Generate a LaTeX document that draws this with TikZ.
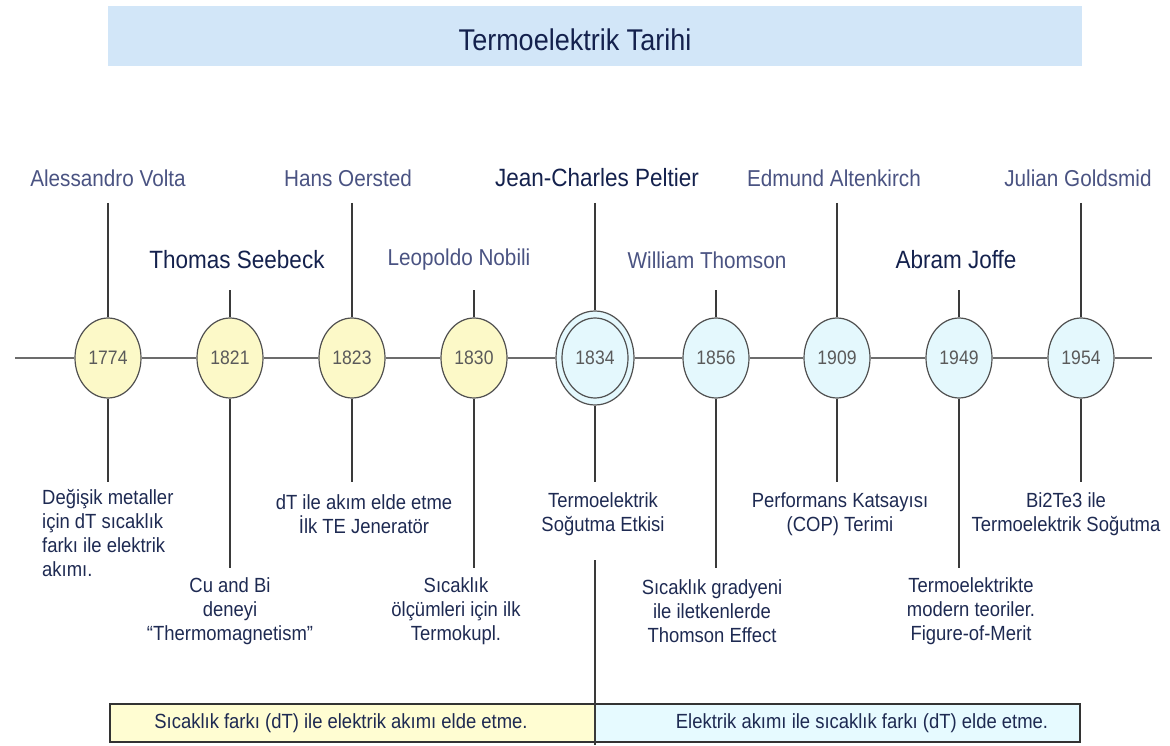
\documentclass[tikz,border=0pt]{standalone}
\usepackage{fontspec}
\setmainfont{Liberation Sans}[FakeStretch=0.9]
\usetikzlibrary{shapes.geometric}
\definecolor{titlefill}{HTML}{D2E6F8}
\definecolor{yfill}{HTML}{FCF9C8}
\definecolor{bfill}{HTML}{E4F8FD}
\definecolor{ylbox}{HTML}{FFFDD2}
\definecolor{blbox}{HTML}{E6FAFF}
\definecolor{lightname}{HTML}{4A5382}
\definecolor{darkname}{HTML}{14214D}
\definecolor{desc}{HTML}{1E2A52}
\definecolor{yeartxt}{HTML}{5A5A5A}
\definecolor{edge}{HTML}{505050}
\definecolor{stem}{HTML}{3A3A3A}
\begin{document}
\begin{tikzpicture}[x=1pt,y=-1pt,
  yr/.style={ellipse,draw=edge,line width=1.2pt,minimum width=66pt,minimum height=80pt,inner sep=0pt,text=yeartxt,font=\fontsize{19.5}{22}\selectfont},
  yy/.style={yr,fill=yfill},
  yb/.style={yr,fill=bfill},
  nm/.style={font=\fontsize{23}{26}\selectfont,text=lightname,inner sep=0pt},
  nmd/.style={font=\fontsize{25}{28}\selectfont,text=darkname,inner sep=0pt},
  ds/.style={font=\fontsize{20.5}{24}\selectfont,text=desc,align=center,inner sep=0pt},
  stemline/.style={draw=stem,line width=1.3pt},
  axisline/.style={draw=gray!85!black,line width=1.3pt},
  bandbox/.style={rectangle,draw=black!80,line width=1.3pt,minimum width=485pt,minimum height=38pt,inner sep=0pt},
  bandtxt/.style={font=\fontsize{20.5}{24}\selectfont,text=desc}]
\useasboundingbox (0,0) rectangle (1170,746);

% title
\node[rectangle,fill=titlefill,minimum width=974pt,minimum height=60pt,inner sep=0pt,
      label={[font=\fontsize{30}{32}\selectfont,text=darkname,xshift=-20pt,yshift=-4pt]center:Termoelektrik Tarihi}] (title) at (595,36) {};

% year ellipses
\node[yy] (y1774) at (108,358) {1774};
\node[yy] (y1821) at (230,358) {1821};
\node[yy] (y1823) at (352,358) {1823};
\node[yy] (y1830) at (474,358) {1830};
\node[yb,minimum width=78pt,minimum height=94pt] (y1834o) at (595,358) {};
\node[yb] (y1834) at (595,358) {1834};
\node[yb] (y1856) at (716,358) {1856};
\node[yb] (y1909) at (837,358) {1909};
\node[yb] (y1949) at (959,358) {1949};
\node[yb] (y1954) at (1081,358) {1954};

% timeline
\coordinate (tl) at (15,358);
\coordinate (tr) at (1152,358);
\draw[axisline] (tl) -- (y1774.west);
\draw[axisline] (y1774.east) -- (y1821.west);
\draw[axisline] (y1821.east) -- (y1823.west);
\draw[axisline] (y1823.east) -- (y1830.west);
\draw[axisline] (y1830.east) -- (y1834o.west);
\draw[axisline] (y1834o.east) -- (y1856.west);
\draw[axisline] (y1856.east) -- (y1909.west);
\draw[axisline] (y1909.east) -- (y1949.west);
\draw[axisline] (y1949.east) -- (y1954.west);
\draw[axisline] (y1954.east) -- (tr);

% names
\node[nm]  (n1774) at (108,178) {Alessandro Volta};
\node[nmd] (n1821) at (237,260) {Thomas Seebeck};
\node[nm]  (n1823) at (348,178) {Hans Oersted};
\node[nm]  (n1830) at (459,260) {Leopoldo Nobili};
\node[nmd] (n1834) at (597,178) {Jean-Charles Peltier};
\node[nm]  (n1856) at (707,260) {William Thomson};
\node[nm]  (n1909) at (834,178) {Edmund Altenkirch};
\node[nmd] (n1949) at (956,260) {Abram Joffe};
\node[nm]  (n1954) at (1078,178) {Julian Goldsmid};

% upper stems
\coordinate (u1774) at (108,203);
\coordinate (u1821) at (230,290);
\coordinate (u1823) at (352,203);
\coordinate (u1830) at (474,290);
\coordinate (u1834) at (595,203);
\coordinate (u1856) at (716,290);
\coordinate (u1909) at (837,203);
\coordinate (u1949) at (959,290);
\coordinate (u1954) at (1081,203);
\foreach \y in {1774,1821,1823,1830,1856,1909,1949,1954}
  \draw[stemline] (u\y) -- (y\y.north);
\draw[stemline] (u1834) -- (y1834o.north);

% lower stems
\coordinate (b1774) at (108,482);
\coordinate (b1821) at (230,568);
\coordinate (b1823) at (352,482);
\coordinate (b1830) at (474,568);
\coordinate (b1834) at (595,482);
\coordinate (b1856) at (716,568);
\coordinate (b1909) at (837,482);
\coordinate (b1949) at (959,568);
\coordinate (b1954) at (1081,482);
\foreach \y in {1774,1821,1823,1830,1856,1909,1949,1954}
  \draw[stemline] (y\y.south) -- (b\y);
\draw[stemline] (y1834o.south) -- (b1834);

% descriptions
\node[ds,align=left,anchor=west] (d1774) at (42,533) {Değişik metaller\\için dT sıcaklık\\farkı ile elektrik\\akımı.};
\node[ds] (d1821) at (230,611) {Cu and Bi\\deneyi\\“Thermomagnetism”};
\node[ds] (d1823) at (364,514) {dT ile akım elde etme\\İlk TE Jeneratör};
\node[ds] (d1830) at (456,611) {Sıcaklık\\ölçümleri için ilk\\Termokupl.};
\node[ds] (d1834) at (603,514) {Termoelektrik\\Soğutma Etkisi};
\node[ds] (d1856) at (712,611) {Sıcaklık gradyeni\\ile iletkenlerde\\Thomson Effect};
\node[ds] (d1909) at (840,514) {Performans Katsayısı\\(COP) Terimi};
\node[ds] (d1949) at (971,611) {Termoelektrikte\\modern teoriler.\\Figure-of-Merit};
\node[ds] (d1954) at (1066,514) {Bi2Te3 ile\\Termoelektrik Soğutma};

% bottom bands
\node[bandbox,fill=ylbox,label={[bandtxt,xshift=-11.5pt]center:Sıcaklık farkı (dT) ile elektrik akımı elde etme.}] (bandL) at (352.5,723) {};
\node[bandbox,fill=blbox,label={[bandtxt,xshift=24.5pt]center:Elektrik akımı ile sıcaklık farkı (dT) elde etme.}] (bandR) at (837.5,723) {};

% Peltier divider line
\coordinate (pdiv) at (595,560);
\coordinate (pend) at (595,745);
\draw[stemline] (pdiv) -- (pend);
\end{tikzpicture}
\end{document}
